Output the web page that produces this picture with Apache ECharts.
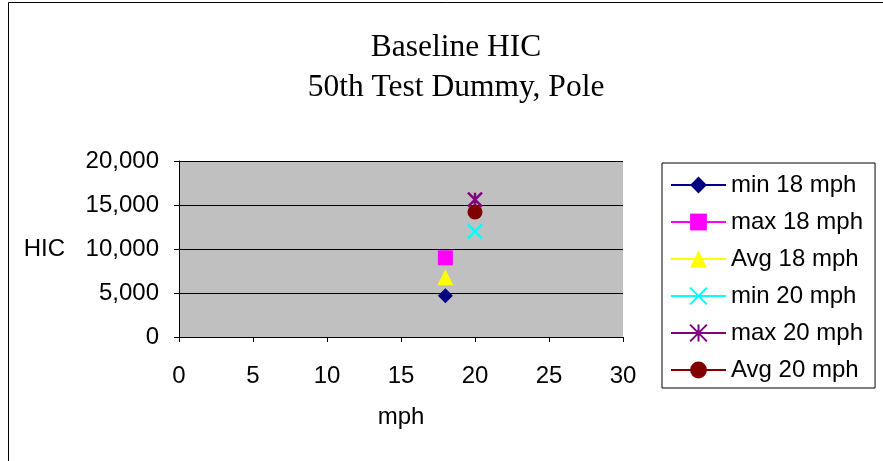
<!DOCTYPE html>
<html><head><meta charset="utf-8">
<script src="https://cdn.jsdelivr.net/npm/echarts@6/dist/echarts.min.js"></script>
<style>html,body{margin:0;padding:0;background:#fff}#c{width:883px;height:461px}</style>
</head><body><div id="c"></div>
<script>
const seriesNames = ['min 18 mph','max 18 mph','Avg 18 mph','min 20 mph','max 20 mph','Avg 20 mph'];
const speeds = [18, 18, 18, 20, 20, 20];
const hicValues = [4700, 9000, 6800, 12000, 15600, 14200];
const colors = ['#000080','#ff00ff','#ffff00','#00ffff','#800080','#800000'];
const xTicks = [0,5,10,15,20,25,30];
const yTicks = [0,5000,10000,15000,20000];

const symbols = [
  'diamond','rect','triangle',
  'path://M0,0L10,10M10,0L0,10',
  'path://M0,0L10,10M10,0L0,10M5,0L5,10',
  'circle'
];
const sizes = [15, 15, 16, 14, 14, 15];
const isStroke = [false,false,false,true,true,false];

const series = seriesNames.map((n,i)=>({
  name:n, type:'line',
  data:[[speeds[i], hicValues[i]]],
  symbol:symbols[i], symbolSize:sizes[i],
  lineStyle:{color:colors[i], width:2},
  itemStyle: isStroke[i] ? {color:'transparent', borderColor:colors[i], borderWidth:2.5} : {color:colors[i], borderWidth:0},
  z: 5
}));

const chart = echarts.init(document.getElementById('c'));
chart.setOption({
  animation:false,
  backgroundColor:'#fff',
  title:{
    text:'Baseline HIC\n50th Test Dummy, Pole',
    left:451, top:23, textAlign:'center',
    textStyle:{fontFamily:'Liberation Serif', fontSize:31.5, fontWeight:'normal', color:'#000', lineHeight:40}
  },
  graphic:[{type:'rect', shape:{x:8.5,y:2.5,width:1000,height:1000}, style:{fill:'none', stroke:'#000', lineWidth:1}, z:-1, silent:true}],
  grid:{left:179, top:161, width:444, height:176, show:true, backgroundColor:'#c0c0c0', borderWidth:0},
  xAxis:{
    type:'value', min:0, max:30, interval:5,
    name:'mph', nameLocation:'middle', nameGap:68,
    nameTextStyle:{fontFamily:'Liberation Sans', fontSize:24, color:'#000'},
    axisLine:{show:true, onZero:false, lineStyle:{color:'#000', width:1}},
    axisTick:{show:true, inside:false, length:5, lineStyle:{color:'#000'}},
    axisLabel:{fontFamily:'Liberation Sans', fontSize:24, color:'#000', margin:27, formatter:v=>xTicks.includes(v)?String(v):''},
    splitLine:{show:false}
  },
  yAxis:{
    type:'value', min:0, max:20000, interval:5000,
    name:'HIC', nameLocation:'middle', nameRotate:0, nameGap:114,
    nameTextStyle:{fontFamily:'Liberation Sans', fontSize:24, color:'#000'},
    axisLine:{show:true, lineStyle:{color:'#000', width:1}},
    axisTick:{show:true, inside:false, length:5, lineStyle:{color:'#000'}},
    axisLabel:{fontFamily:'Liberation Sans', fontSize:24, color:'#000', margin:20,
      formatter:v=>yTicks.includes(v)?v.toLocaleString('en-US'):''},
    splitLine:{show:true, lineStyle:{color:'#000', width:1}}
  },
  legend:{
    orient:'vertical', left:662, top:163,
    width:215,
    padding:[10,12,6,8],
    borderColor:'#000', borderWidth:1,
    itemWidth:55, itemHeight:21, itemGap:13,
    textStyle:{fontFamily:'Liberation Sans', fontSize:24, color:'#000', padding:[0,0,0,0]},
    data:seriesNames
  },
  series
});
</script></body></html>
